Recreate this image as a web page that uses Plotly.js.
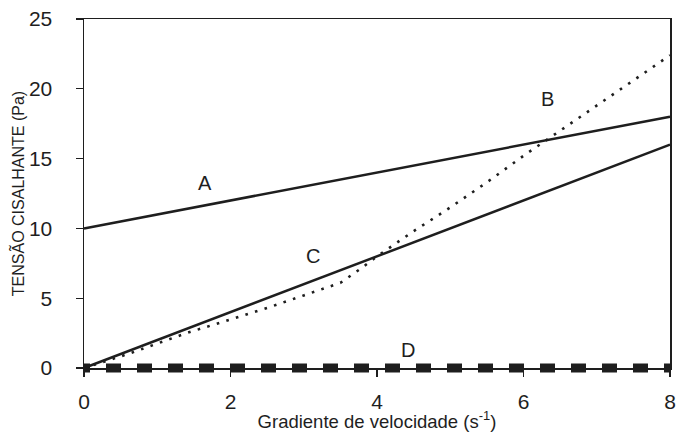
<!DOCTYPE html>
<html><head><meta charset="utf-8">
<script src="https://cdn.plot.ly/plotly-3.0.1.min.js"></script>
<style>html,body{margin:0;padding:0;background:#fff}#chart{width:688px;height:432px}</style>
</head><body><div id="chart"></div>
<script>
// Data
const xA = [0, 8];
const yA = [10, 18];
const xB = [0, 0.6, 1.4, 1.9, 2.5, 3.0, 3.5, 3.8, 4.0, 4.5, 5.0, 5.5, 6.0, 6.5, 7.0, 7.5, 8.0];
const yB = [0, 1.0, 2.5, 3.3, 4.3, 5.2, 6.1, 7.2, 8.0, 9.8, 11.5, 13.3, 15.2, 17.0, 18.8, 20.6, 22.4];
const xC = [0, 8];
const yC = [0, 16];
const xD = [0, 8];
const yD = [0, 0];
const labelNames = ['A', 'B', 'C', 'D'];
const labelX = [1.65, 6.33, 3.13, 4.42];
const labelY = [13.25, 19.3, 8.0, 1.3];
const xTicks = [0, 2, 4, 6, 8];
const yTicks = [0, 5, 10, 15, 20, 25];

let dashD = '6px,16px';
for (let i = 0; i < 20; i++) dashD += ',15px,16px';

const ink = '#1e1e1e';
const traces = [
  {x: xA, y: yA, mode: 'lines', line: {color: ink, width: 2.5}, hoverinfo: 'skip'},
  {x: xC, y: yC, mode: 'lines', line: {color: ink, width: 2.5}, hoverinfo: 'skip'},
  {x: xB, y: yB, mode: 'lines', line: {color: ink, width: 2.6, dash: '2.6px,7.4px'}, hoverinfo: 'skip'},
  {x: xD, y: yD, mode: 'lines', line: {color: ink, width: 9, dash: dashD}, cliponaxis: false, hoverinfo: 'skip'}
];

const annotations = labelNames.map((t, i) => ({
  x: labelX[i], y: labelY[i], text: t, showarrow: false,
  font: {family: 'Liberation Sans, Arial, sans-serif', size: 20, color: ink}
}));

const layout = {
  width: 688, height: 432,
  margin: {l: 84, r: 18, t: 19, b: 64},
  paper_bgcolor: '#fff', plot_bgcolor: '#fff',
  showlegend: false,
  font: {family: 'Liberation Sans, Arial, sans-serif', color: ink},
  xaxis: {
    range: [0, 8], tickvals: xTicks, ticktext: xTicks.map(String),
    showgrid: false, zeroline: false, showline: true, mirror: true,
    linecolor: ink, linewidth: 1.5,
    ticks: 'outside', ticklen: 7, tickwidth: 1.2, tickcolor: ink,
    tickfont: {size: 21}, ticklabelstandoff: 7,
    title: {text: 'Gradiente de velocidade (s<sup>-1</sup>)', font: {size: 18.5}, standoff: 0}
  },
  yaxis: {
    range: [0, 25], tickvals: yTicks, ticktext: yTicks.map(String),
    showgrid: false, zeroline: false, showline: true, mirror: true,
    linecolor: ink, linewidth: 1.5,
    ticks: 'outside', ticklen: 7, tickwidth: 1.2, tickcolor: ink,
    tickfont: {size: 21}, ticklabelstandoff: 19,
    title: {text: '\u00a0\u00a0\u00a0\u00a0TENSÃO CISALHANTE (Pa)', font: {size: 16}, standoff: 0}
  },
  annotations: annotations
};

Plotly.newPlot('chart', traces, layout, {displayModeBar: false, staticPlot: true}).then(() => {
  // let the thick D dashes show on both sides of the zero axis line
  document.querySelectorAll('#chart .cartesianlayer [clip-path]').forEach(el => el.removeAttribute('clip-path'));
});
</script></body></html>
